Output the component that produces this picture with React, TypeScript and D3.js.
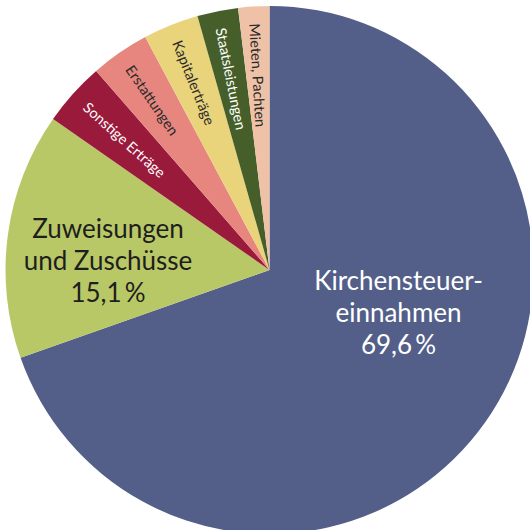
import React from "react";
import * as d3 from "d3";

const categories = [
  "Kirchensteuereinnahmen",
  "Zuweisungen und Zuschüsse",
  "Sonstige Erträge",
  "Erstattungen",
  "Kapitalerträge",
  "Staatsleistungen",
  "Mieten, Pachten",
];
const values = [69.6, 15.1, 3.9, 3.6, 3.4, 2.5, 1.9];
const colors = ["#535f89", "#b9c866", "#9a1a3b", "#e6867f", "#e9d37b", "#465f2a", "#efc2a7"];
const bigLabels: Record<number, string[]> = {
  0: ["Kirchensteuer-", "einnahmen", "69,6\u2009%"],
  1: ["Zuweisungen", "und Zuschüsse", "15,1\u2009%"],
};
const smallLabels = ["", "", "Sonstige Erträge", "Erstattungen", "Kapitalerträge", "Staatsleistungen", "Mieten, Pachten"];

const W = 530;
const H = 530;
const cx = 269.5;
const cy = 270;
const R = 264;

export default function App() {
  const pie = d3.pie<number>().sort(null).value((d) => d)(values);
  const arc = d3.arc<d3.PieArcDatum<number>>().innerRadius(0).outerRadius(R);
  const bigPos: Record<number, [number, number]> = {
    0: [cx + 129, 290],
    1: [108, 238],
  };
  return (
    <svg
      width={W}
      height={H}
      style={{ position: "fixed", left: 0, top: 0, background: "#fff" }}
      fontFamily="Lato, 'Open Sans', sans-serif"
    >
      <g transform={`translate(${cx},${cy})`}>
        {pie.map((p, i) => (
          <path key={categories[i]} d={arc(p) || ""} fill={colors[i]} />
        ))}
        {pie.map((p, i) => {
          if (!smallLabels[i]) return null;
          const mid = (p.startAngle + p.endAngle) / 2;
          const deg = (mid * 180) / Math.PI;
          const r0 = 247;
          const x = r0 * Math.sin(mid);
          const y = -r0 * Math.cos(mid);
          const dark = i === 2 || i === 5;
          return (
            <text
              key={"s" + i}
              x={x}
              y={y}
              transform={`rotate(${deg + 90},${x},${y})`}
              fontSize={14.5}
              dominantBaseline="central"
              fill={dark ? "#ffffff" : "#2a2a2a"}
            >
              {smallLabels[i]}
            </text>
          );
        })}
      </g>
      {[0, 1].map((i) => (
        <text
          key={"b" + i}
          x={bigPos[i][0]}
          y={bigPos[i][1]}
          textAnchor="middle"
          fontSize={26}
          fill={i === 0 ? "#ffffff" : "#1e1e1e"}
        >
          {bigLabels[i].map((line, j) => (
            <tspan key={j} x={bigPos[i][0]} dy={j === 0 ? 0 : 32}>
              {line}
            </tspan>
          ))}
        </text>
      ))}
    </svg>
  );
}
